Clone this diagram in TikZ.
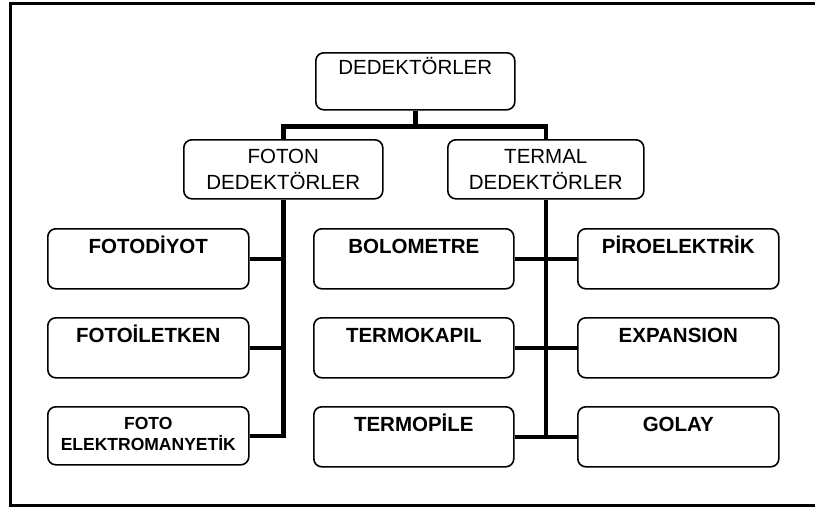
\documentclass[tikz,border=0pt]{standalone}
\usepackage{fontspec}
\setmainfont{Liberation Sans}
\usetikzlibrary{calc}
\begin{document}
\begin{tikzpicture}[x=1pt,y=-1pt,
  box/.style={draw, line width=1.6pt, rounded corners=8pt, anchor=north west, inner xsep=0pt},
  onel/.style={box, font=\fontsize{20.5}{25}\selectfont\bfseries, text height=25pt, text depth=35pt, inner ysep=0pt},
  twol/.style={box, font=\fontsize{20.5}{26}\selectfont, align=center, inner ysep=0pt},
  conn/.style={line width=4.5pt}]
\useasboundingbox (0,0) rectangle (815,509);
\fill[white] (0,0) rectangle (815,509);
% frame
\draw[line width=3pt] (815,3) -- (10,3) -- (10,505) -- (815,505);
% nodes
\node[box, font=\fontsize{20.5}{25}\selectfont, text height=22pt, text depth=35pt, inner ysep=0pt,
  minimum width=199pt, minimum height=57pt] (top) at (315,52) {DEDEKTÖRLER};
\node[twol, minimum width=199pt, minimum height=59pt] (foton) at (183,139) {FOTON\\DEDEKTÖRLER};
\node[twol, minimum width=196pt, minimum height=59pt] (termal) at (447,139) {TERMAL\\DEDEKTÖRLER};
\node[onel, minimum width=201pt, minimum height=60pt] (fd) at (47,228) {FOTODİYOT};
\node[onel, minimum width=201pt, minimum height=60pt] (fi) at (47,317) {FOTOİLETKEN};
\node[box, font=\fontsize{17.5}{21}\selectfont\bfseries, align=center, inner ysep=0pt, text depth=4pt,
  minimum width=201pt, minimum height=58pt] (fe) at (47,406) {FOTO\\ELEKTROMANYETİK};
\node[onel, minimum width=200pt, minimum height=60pt] (bolo) at (313,228) {BOLOMETRE};
\node[onel, minimum width=200pt, minimum height=60pt] (tk) at (313,317) {TERMOKAPIL};
\node[onel, minimum width=200pt, minimum height=60pt] (tp) at (313,406) {TERMOPİLE};
\node[onel, minimum width=201pt, minimum height=60pt] (piro) at (577,228) {PİROELEKTRİK};
\node[onel, minimum width=201pt, minimum height=60pt] (exp) at (577,317) {EXPANSION};
\node[onel, minimum width=201pt, minimum height=60pt] (golay) at (577,406) {GOLAY};
% connectors
\coordinate (j) at ($(top.south)+(0,16)$);
\draw[conn] (top.south) -- (j);
\draw[conn] (foton.north) |- (j) -| (termal.north);
\draw[conn] (foton.south) |- (fe.east);
\draw[conn] (foton.south |- fd.east) -- (fd.east);
\draw[conn] (foton.south |- fi.east) -- (fi.east);
\draw[conn] (termal.south) -- (termal.south |- golay.west);
\draw[conn] (bolo.east) -- (piro.west);
\draw[conn] (tk.east) -- (exp.west);
\draw[conn] (tp.east) -- (golay.west);
\end{tikzpicture}
\end{document}
